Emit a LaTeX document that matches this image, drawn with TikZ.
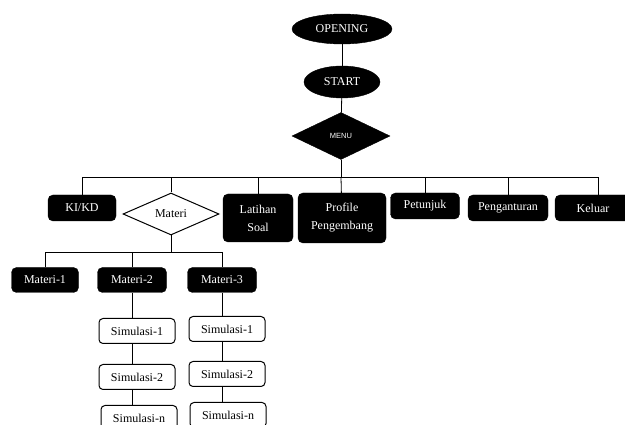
\documentclass[tikz,border=0pt]{standalone}
\usepackage{fontspec}
\setmainfont{Liberation Serif}
\newfontfamily\menufont{Liberation Sans}
\usetikzlibrary{shapes.geometric}

\begin{document}
\begin{tikzpicture}[x=1pt, y=-1pt,
    every node/.style = {font=\fontsize{12}{18}\selectfont},
    term/.style = {draw, ellipse, fill=black, text=white, inner sep=0pt},
    choice/.style = {draw, diamond, inner sep=0pt},
    blackbox/.style = {draw, fill=black, text=white, rounded corners=5pt, inner sep=0pt, minimum height=26pt, align=center},
    whitebox/.style = {draw, line width=1pt, fill=white, rounded corners=4pt, inner sep=0pt, minimum width=76pt, minimum height=25pt},
    line/.style = {line width=0.8pt}]
    \useasboundingbox (0, 0) rectangle (625, 425);
    \clip (0, 0) rectangle (625, 425);

    \node[term, minimum width=100, minimum height=30] at (342, 29) (open) {OPENING};
    \node[term, minimum width=76, minimum height=32] at (342, 82) (start) {START};
    \node[choice, fill=black, text=white, minimum width=98, minimum height=47, font=\menufont\fontsize{7.5}{8}\selectfont] at (341, 136) (menu) {MENU};

    \node[blackbox, minimum width=68] at (82, 208) (kikd) {KI/KD};
    \node[choice, line width=1pt, fill=white, minimum width=96, minimum height=42] at (171, 214) (materi) {Materi};
    \node[blackbox, minimum width=70, minimum height=48] at (258, 218) (latihan) {Latihan\\Soal};
    \node[blackbox, minimum width=88, minimum height=50] at (342, 218) (profile) {Profile\\Pengembang};
    \node[blackbox, minimum width=69] at (425, 206) (petunjuk) {Petunjuk};
    \node[blackbox, minimum width=80] at (508, 208) (pengaturan) {Penganturan};
    \node[blackbox, minimum width=76] at (593, 208) (keluar) {Keluar};

    \node[blackbox, minimum width=67, minimum height=25] at (45, 280) (materi1) {Materi-1};
    \node[blackbox, minimum width=69, minimum height=25] at (132, 280) (materi2) {Materi-2};
    \node[blackbox, minimum width=69, minimum height=25] at (222, 280) (materi3) {Materi-3};

    \node[whitebox] at (137, 331) (sim21) {Simulasi-1};
    \node[whitebox] at (137, 377) (sim22) {Simulasi-2};
    \node[whitebox] at (139, 418) (sim2n) {Simulasi-n};
    \node[whitebox] at (227, 329) (sim31) {Simulasi-1};
    \node[whitebox] at (227, 374) (sim32) {Simulasi-2};
    \node[whitebox] at (228, 415) (sim3n) {Simulasi-n};

    \coordinate (bus) at (341, 177);
    \coordinate (subbus) at (171, 252);

    \draw [line] (open) -- (start);
    \draw [line] (start) -- (menu);
    \draw [line] (menu) -- (bus);
    \draw [line] (kikd.north) |- (bus);
    \draw [line] (bus) -| ([xshift=5pt]keluar.north);
    \draw [line] (materi) -- (materi |- bus);
    \draw [line] (latihan) -- (latihan |- bus);
    \draw [line] (profile) -- (bus);
    \draw [line] (petunjuk) -- (petunjuk |- bus);
    \draw [line] (pengaturan) -- (pengaturan |- bus);

    \draw [line] (materi) -- (subbus);
    \draw [line] (materi1.north) |- (subbus);
    \draw [line] (subbus) -| (materi3.north);
    \draw [line] (materi2) -- (materi2 |- subbus);

    \draw [line] (materi2.south) -- (materi2.south |- sim21.north);
    \draw [line] (materi2.south |- sim21.south) -- (materi2.south |- sim22.north);
    \draw [line] (materi2.south |- sim22.south) -- (materi2.south |- sim2n.north);
    \draw [line] (materi3.south) -- (materi3.south |- sim31.north);
    \draw [line] (materi3.south |- sim31.south) -- (materi3.south |- sim32.north);
    \draw [line] (materi3.south |- sim32.south) -- (materi3.south |- sim3n.north);
\end{tikzpicture}
\end{document}
